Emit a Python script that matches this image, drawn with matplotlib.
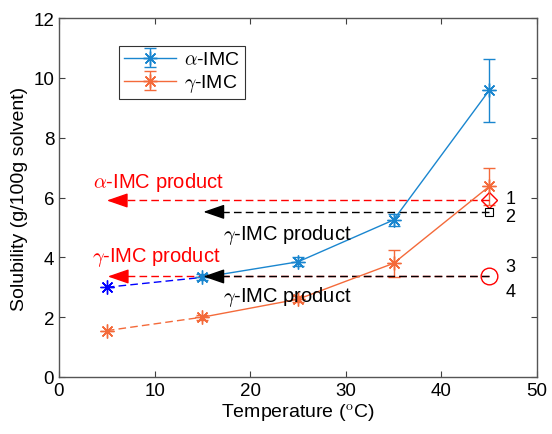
import numpy as np
import matplotlib
matplotlib.use('Agg')
import matplotlib.pyplot as plt

plt.rcParams['font.family'] = ['Liberation Sans', 'DejaVu Sans']
plt.rcParams['mathtext.fontset'] = 'cm'

# --- Data ---
temps = [15, 25, 35, 45]
alpha_sol = [3.33, 3.85, 5.25, 9.58]
alpha_err = [0.10, 0.15, 0.20, 1.04]
gamma_sol = [2.00, 2.60, 3.80, 6.37]
gamma_err = [0.08, 0.10, 0.45, 0.62]

# extrapolated 5 degC points (dashed)
ext_t = [5, 15]
alpha_ext = [3.00, 3.33]
gamma_ext = [1.55, 2.00]

# product levels at 45 degC and where each arrow points back to
prod_levels = [5.90, 5.52, 3.36, 3.36]
prod_colors = ['red', 'black', 'red', 'black']
arrow_tip = [5.0, 15.1, 5.1, 15.1]
point_labels = ['1', '2', '3', '4']
label_y = [5.95, 5.38, 3.70, 2.86]

# text annotations
notes_x = [3.55, 3.45, 17.2, 17.2]
notes_y = [6.55, 4.05, 4.78, 2.71]
notes_txt = [r'$\alpha$-IMC product', r'$\gamma$-IMC product',
             r'$\gamma$-IMC product', r'$\gamma$-IMC product']
notes_col = ['red', 'red', 'black', 'black']

blue = '#1A86CF'
orange = '#F46A3A'
asterisk = (8, 2, 0)
fs = 13.5

fig = plt.figure(figsize=(5.52, 4.35), dpi=100)
ax = fig.add_axes([59 / 552, 1 - 378 / 435, 478 / 552, 359 / 435])

ax.errorbar(temps, alpha_sol, yerr=alpha_err, color=blue, marker=asterisk,
            markersize=10, linewidth=1, capsize=4.5, label=r'$\alpha$-IMC')
ax.errorbar(temps, gamma_sol, yerr=gamma_err, color=orange, marker=asterisk,
            markersize=10, linewidth=1, capsize=4.5, label=r'$\gamma$-IMC')
ax.plot(ext_t, alpha_ext, color='blue', linestyle=(0, (5.5, 3)),
        marker=asterisk, markersize=10, linewidth=1, markevery=[0])
ax.plot(ext_t, gamma_ext, color=orange, linestyle=(0, (5.5, 3)),
        marker=asterisk, markersize=10, linewidth=1, markevery=[0])

# --- dashed arrows back to the curves ---
for lev, c, xt in zip(prod_levels, prod_colors, arrow_tip):
    ax.plot([45, xt + 1], [lev, lev], color=c, linestyle=(0, (5.5, 3)),
            linewidth=1)
    ax.annotate('', xy=(xt, lev), xytext=(14, 0), textcoords='offset points',
                arrowprops=dict(arrowstyle='-|>,head_length=1.3,head_width=0.45',
                                color=c, linewidth=1, shrinkA=0, shrinkB=0,
                                mutation_scale=10))

ax.plot(45, prod_levels[0], marker='D', markersize=8, mfc='none', mec='red', mew=1)
ax.plot(45, prod_levels[1], marker='s', markersize=6, mfc='none', mec='black', mew=0.8)
ax.plot(45, prod_levels[2], marker='o', markersize=12, mfc='none', mec='red', mew=1)
for lab, ly in zip(point_labels, label_y):
    ax.text(46.7, ly, lab, fontsize=13, va='center', ha='left')

for x, y, t, c in zip(notes_x, notes_y, notes_txt, notes_col):
    ax.text(x, y, t, color=c, fontsize=14.5, va='center', ha='left')

ax.set_xlim(0, 50)
ax.set_ylim(0, 12)
ax.set_xticks(np.arange(0, 51, 10))
ax.set_yticks(np.arange(0, 13, 2))
ax.tick_params(direction='in', labelsize=fs, length=4, width=0.8,
               top=True, right=True, color='#404040')
for sp in ax.spines.values():
    sp.set_color('#555555')
    sp.set_linewidth(1)
ax.set_xlabel(r'Temperature ($^{\mathrm{o}}$C)', fontsize=14, labelpad=2)
ax.set_ylabel('Solubility (g/100g solvent)', fontsize=14, labelpad=4)

leg = ax.legend(loc='upper left', bbox_to_anchor=(0.1255, 0.922),
                borderaxespad=0, fontsize=14, frameon=True, fancybox=False,
                edgecolor='black', handlelength=2.7, borderpad=0.25,
                labelspacing=0.2, handletextpad=0.4)
leg.get_frame().set_linewidth(0.8)

fig.savefig('out.png', dpi=100)
